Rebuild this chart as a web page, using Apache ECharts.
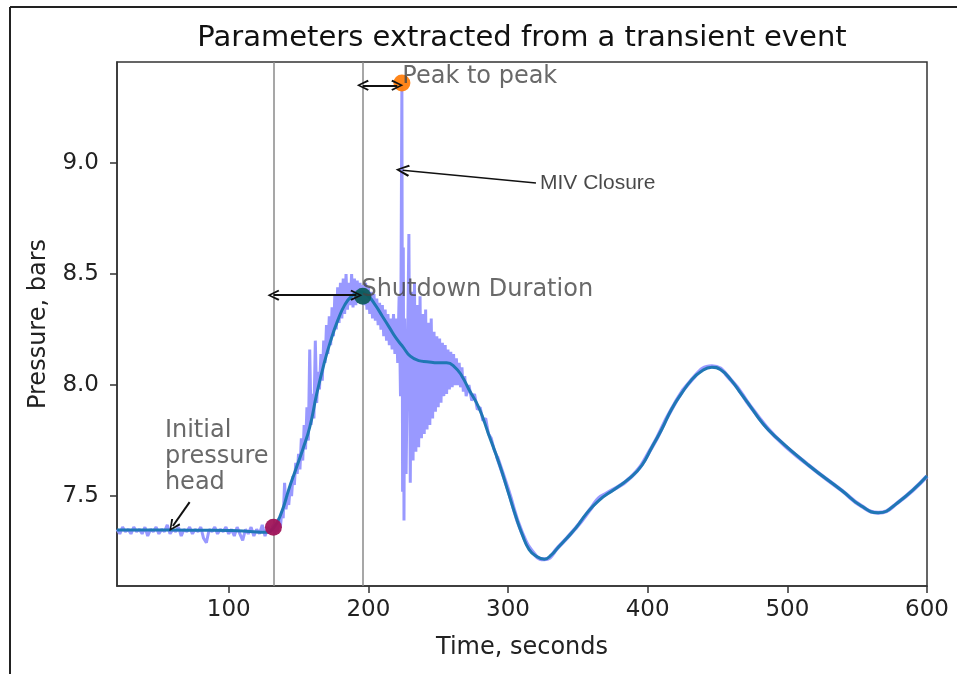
<!DOCTYPE html>
<html>
<head>
<meta charset="utf-8">
<script src="https://cdn.jsdelivr.net/npm/echarts@6/dist/echarts.min.js"></script>
<style>
html, body { margin: 0; padding: 0; background: #fff; }
#chart { width: 957px; height: 674px; }
</style>
</head>
<body>
<div id="chart"></div>
<script>
// raw sensor trace (noisy part)
var rawTime = [
  20,22,24,26,28,30,32,34,36,38,40,42,44,46,48,50,52,54,56,58,60,62,64,66,68,70,72,74,76,78,
  80,82,84,86,88,90,92,94,96,98,100,102,104,106,108,110,112,114,116,118,120,122,124,126,128,130,
  131,132,133,134,135,136,137,138,139,140,141,142,143,144,145,146,147,148,149,150,
  151,152,153,154,155,156,157,158,159,160,161,162,163,164,165,166,167,168,169,170,
  171,172,173,174,175,176,177,178,179,180,181,182,183,184,185,186,187,188,189,190,
  191,192,193,194,195,196,197,198,199,200,201,202,203,204,205,206,207,208,209,210,
  211,212,213,214,215,216,217,218,219,220,221,222,223,224,224.5,225,225.5,226,227,228,229,230,
  231,232,233,234,235,236,237,238,239,240,241,242,243,244,245,246,247,248,249,250,
  251,252,253,254,255,256,257,258,259,260,261,262,263,264,265,266,267,268,269,270,
  272,274,276,278,280,282,284,286,288,290,292
];
var rawPressure = [
  7.35,7.33,7.36,7.34,7.35,7.33,7.36,7.34,7.35,7.33,7.36,7.32,7.35,7.34,7.36,7.33,7.35,7.34,7.37,7.33,
  7.35,7.34,7.36,7.32,7.35,7.34,7.36,7.33,7.35,7.34,7.36,7.31,7.29,7.35,7.34,7.36,7.33,7.35,7.34,7.36,
  7.33,7.35,7.32,7.36,7.33,7.30,7.35,7.33,7.36,7.32,7.35,7.33,7.37,7.32,7.36,7.34,
  7.34,7.37,7.33,7.38,7.34,7.40,7.36,7.43,7.40,7.56,7.44,7.49,7.46,7.54,7.50,7.59,7.55,7.65,7.60,7.69,
  7.62,7.76,7.66,7.82,7.71,7.90,7.75,8.16,7.82,7.96,7.85,8.20,7.92,8.06,7.98,8.14,8.02,8.20,8.10,8.27,
  8.14,8.31,8.18,8.35,8.22,8.41,8.25,8.44,8.28,8.46,8.30,8.48,8.32,8.50,8.34,8.46,8.36,8.50,8.35,8.48,
  8.36,8.47,8.37,8.46,8.38,8.45,8.36,8.46,8.34,8.44,8.32,8.42,8.30,8.41,8.29,8.39,8.27,8.37,8.25,8.36,
  8.22,8.34,8.20,8.32,8.18,8.30,8.16,8.32,8.14,8.30,8.10,8.40,7.95,9.36,7.52,8.62,7.39,8.30,7.60,8.12,8.68,7.56,
  8.42,7.66,8.46,7.70,8.36,7.72,8.40,7.76,8.32,7.78,8.34,7.80,8.28,7.82,8.30,7.85,8.24,7.88,8.22,7.90,
  8.21,7.92,8.19,7.95,8.18,7.96,8.16,7.98,8.15,7.99,8.14,8.00,8.12,8.00,8.10,7.99,8.08,7.97,8.04,7.95,
  8.00,7.93,7.96,7.89,7.90,7.84,7.85,7.78,7.76,7.71,7.68
];
// raw trace after the oscillations die out
var calmTime = [292,300,310,320,326,336,349,360,365,370,388,403,417,431,446,460,474,491,515,539,553,565,579,600];
var calmPressure = [7.68,7.53,7.335,7.23,7.215,7.27,7.36,7.45,7.49,7.51,7.585,7.72,7.89,8.02,8.085,8.02,7.90,7.77,7.64,7.525,7.455,7.425,7.47,7.59];

// filtered trace
var smoothTime = [20,40,60,80,100,110,120,126,132,138,143,148,153,158,163,168,173,178,183,188,194,200,205,210,215,220,225,230,236,242,250,256,262,267,272,279,286,294,300,306,310,315,320,326,331,336,342,349,356,365,376,388,396,403,410,417,424,431,438,446,452,460,467,474,482,491,515,539,553,565,579,600];
var smoothPressure = [7.347,7.347,7.347,7.346,7.345,7.343,7.338,7.337,7.355,7.43,7.53,7.62,7.71,7.81,7.96,8.09,8.20,8.29,8.36,8.40,8.42,8.40,8.36,8.31,8.26,8.21,8.17,8.13,8.11,8.105,8.10,8.10,8.08,8.04,7.98,7.90,7.78,7.64,7.52,7.40,7.33,7.26,7.23,7.216,7.235,7.27,7.31,7.36,7.42,7.48,7.53,7.585,7.64,7.72,7.80,7.89,7.96,8.02,8.06,8.08,8.07,8.02,7.96,7.90,7.83,7.77,7.64,7.525,7.455,7.425,7.47,7.59];

var xTicks = [100, 200, 300, 400, 500, 600];
var yTicks = [7.5, 8.0, 8.5, 9.0];

// event markers
var shutdownStart = [132, 7.36];
var shutdownPeak = [196, 8.40];
var maxPeak = [224, 9.36];
var eventLines = [132, 196];

// annotations
var annText = ['Peak to peak', 'Shutdown Duration', 'Initial\npressure\nhead', 'MIV Closure'];
var annTime = [224.3, 195, 54.3, 322.9];
var annPressure = [9.387, 8.43, 7.676, 8.91];

function zip(a, b) {
    return a.map(function (v, i) { return [v, b[i]]; });
}

var chevron = 'path://M5,0 L10,9 L8.5,9.9 L5,2.8 L1.5,9.9 L0,9 Z';
var font = 'DejaVu Sans';

var annData = annText.map(function (t, i) {
    var item = { name: t, value: [annTime[i], annPressure[i]] };
    if (t === 'MIV Closure') {
        item.label = { fontFamily: 'Liberation Sans', fontSize: 21, color: '#1a1a1a' };
    }
    return item;
});

option = {
    animation: false,
    backgroundColor: '#fff',
    title: {
        text: 'Parameters extracted from a transient event',
        left: 522,
        textAlign: 'center',
        top: 24,
        padding: 0,
        textStyle: { fontFamily: font, fontSize: 29, fontWeight: 'normal', color: '#111' }
    },
    grid: {
        left: 117, right: 30, top: 62, bottom: 88,
        containLabel: false,
        outerBoundsMode: 'none',
        show: true,
        borderColor: '#333',
        borderWidth: 1.5
    },
    xAxis: {
        type: 'value',
        min: 20,
        max: 600,
        name: 'Time, seconds',
        nameLocation: 'middle',
        nameGap: 50,
        nameTextStyle: { fontFamily: font, fontSize: 24, color: '#222' },
        axisLine: { lineStyle: { color: '#333', width: 1.5 } },
        axisTick: { inside: false, length: 7, customValues: xTicks, lineStyle: { color: '#333', width: 1.5 } },
        axisLabel: { customValues: xTicks, margin: 13, fontFamily: font, fontSize: 23, color: '#222' },
        splitLine: { show: false }
    },
    yAxis: {
        type: 'value',
        min: 7.095,
        max: 9.455,
        name: 'Pressure, bars',
        nameLocation: 'middle',
        nameGap: 66,
        nameTextStyle: { fontFamily: font, fontSize: 24, color: '#222' },
        axisLine: { show: true, lineStyle: { color: '#333', width: 1.5 } },
        axisTick: { show: true, inside: false, length: 7, customValues: yTicks, lineStyle: { color: '#333', width: 1.5 } },
        axisLabel: {
            customValues: yTicks, margin: 18, fontFamily: font, fontSize: 23, color: '#222',
            formatter: function (v) { return v.toFixed(1); }
        },
        splitLine: { show: false }
    },
    graphic: [
        { type: 'line', shape: { x1: 10, y1: 7, x2: 957, y2: 7 }, style: { stroke: '#222', lineWidth: 2 } },
        { type: 'line', shape: { x1: 10, y1: 7, x2: 10, y2: 674 }, style: { stroke: '#222', lineWidth: 2 } }
    ],
    series: [
        {
            name: 'raw',
            type: 'line',
            data: zip(rawTime, rawPressure),
            showSymbol: false,
            lineStyle: { color: '#9999ff', width: 3 },
            z: 2,
            markLine: {
                silent: true,
                z: 1,
                symbol: 'none',
                label: { show: false },
                lineStyle: { color: '#8a8a8a', width: 1.5, type: 'solid' },
                data: eventLines.map(function (t) { return { xAxis: t }; })
            }
        },
        {
            name: 'raw calm',
            type: 'line',
            data: zip(calmTime, calmPressure),
            smooth: 0.5,
            showSymbol: false,
            lineStyle: { color: '#9999ff', width: 4 },
            z: 2
        },
        {
            name: 'filtered',
            type: 'line',
            data: zip(smoothTime, smoothPressure),
            smooth: 0.5,
            showSymbol: false,
            lineStyle: { color: '#1f77b4', width: 3 },
            z: 3
        },
        {
            name: 'start', type: 'scatter', data: [shutdownStart], symbolSize: 17,
            itemStyle: { color: '#a01458', opacity: 0.95 }, z: 5
        },
        {
            name: 'peak', type: 'scatter', data: [shutdownPeak], symbolSize: 17,
            itemStyle: { color: '#0f5c5e', opacity: 0.95 }, z: 5
        },
        {
            name: 'max', type: 'scatter', data: [maxPeak], symbolSize: 17,
            itemStyle: { color: '#ff7f0e', opacity: 0.95 }, z: 5
        },
        {
            name: 'notes', type: 'scatter', data: annData, symbolSize: 0, silent: true, z: 7,
            label: {
                show: true, position: 'right', distance: 0,
                formatter: function (p) { return p.name; },
                fontFamily: font, fontSize: 24, lineHeight: 26, color: '#444'
            },
            markLine: {
                silent: true,
                z: 10,
                label: { show: false },
                lineStyle: { color: '#111', width: 2, type: 'solid' },
                symbolSize: [11, 12],
                data: [
                    [{ coord: [196, 9.35], symbol: chevron }, { coord: [220.7, 9.35], symbol: chevron }],
                    [{ coord: [132, 8.405], symbol: chevron }, { coord: [191.4, 8.405], symbol: chevron }],
                    [{ coord: [72, 7.473], symbol: 'none' }, { coord: [60, 7.365], symbol: chevron }],
                    [{ coord: [320, 8.91], symbol: 'none', lineStyle: { width: 1.5 } }, { coord: [224.5, 8.968], symbol: chevron, symbolSize: [12, 14] }]
                ]
            }
        }
    ]
};

var myChart = echarts.init(document.getElementById('chart'));
myChart.setOption(option);
</script>
</body>
</html>
